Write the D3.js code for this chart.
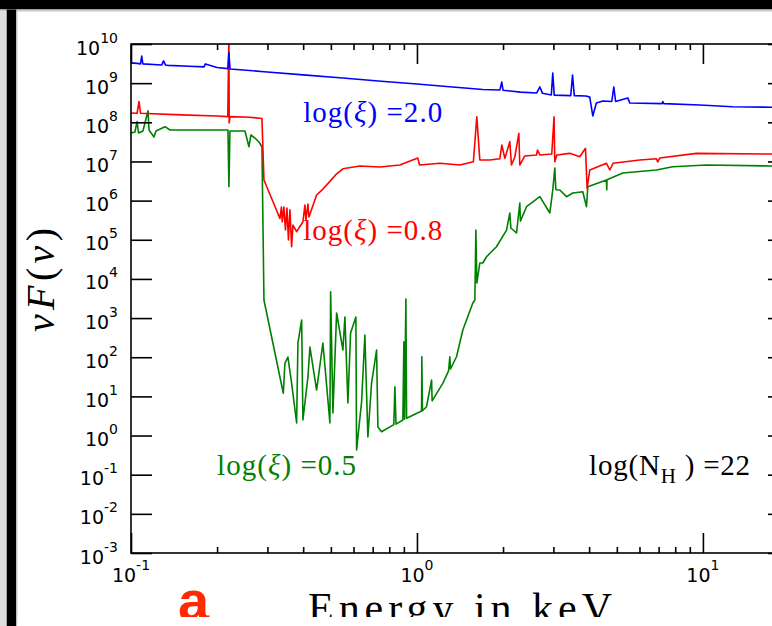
<!DOCTYPE html>
<html>
<head>
<meta charset="utf-8">
<script src="https://cdn.jsdelivr.net/npm/d3@7"></script>
<style>
  body { margin: 0; background: #fff; }
  svg { display: block; }
</style>
</head>
<body>
<div id="chart"></div>
<script>
// Chart size is fixed to the reference picture
const width = 772;
const height = 626;

// energies in keV, nuF(nu) values
const blueEnergy = [0.100, 0.105, 0.108, 0.109, 0.110, 0.128, 0.130, 0.132, 0.135, 0.160, 0.180, 0.182, 0.200, 0.218, 0.220, 0.222, 0.292, 0.40, 0.55, 0.75, 1.0, 1.30, 1.70, 1.95, 1.98, 2.00, 2.30, 2.62, 2.69, 2.75, 2.95, 2.985, 3.02, 3.45, 3.50, 3.55, 3.90, 4.02, 4.12, 4.24, 4.47, 4.80, 4.88, 4.95, 5.46, 5.55, 7.20, 7.24, 7.30, 9.75, 12.7, 17.4, 20];
const blueFlux = [3.3e9, 3.2e9, 3.1e9, 4.9e9, 3.1e9, 2.9e9, 3.7e9, 2.9e9, 2.85e9, 2.7e9, 2.6e9, 3.1e9, 2.5e9, 2.35e9, 6.0e9, 2.3e9, 1.96e9, 1.63e9, 1.35e9, 1.12e9, 9.5e8, 8.1e8, 6.9e8, 6.7e8, 1.07e9, 6.6e8, 5.9e8, 5.6e8, 8.0e8, 5.5e8, 5.0e8, 1.8e9, 4.95e8, 4.8e8, 1.6e9, 4.8e8, 4.7e8, 4.4e8, 1.45e8, 3.1e8, 3.5e8, 3.4e8, 8.0e8, 3.4e8, 4.2e8, 3.1e8, 3.0e8, 3.4e8, 3.0e8, 2.77e8, 2.5e8, 2.42e8, 2.38e8];

const redEnergy = [0.100, 0.105, 0.1067, 0.108, 0.15, 0.20, 0.218, 0.220, 0.2205, 0.222, 0.26, 0.287, 0.2917, 0.3318, 0.3357, 0.338, 0.3425, 0.3468, 0.351, 0.3553, 0.3595, 0.3645, 0.3684, 0.3795, 0.3992, 0.4057, 0.409, 0.4156, 0.419, 0.4457, 0.47, 0.4961, 0.52, 0.551, 0.6315, 0.742, 0.871, 1.007, 1.021, 1.202, 1.413, 1.575, 1.619, 1.659, 1.798, 1.949, 1.98, 2.03, 2.112, 2.14, 2.199, 2.271, 2.289, 2.383, 2.618, 2.64, 2.69, 2.961, 3.016, 3.034, 3.083, 3.423, 3.71, 3.885, 3.935, 4.021, 4.60, 4.724, 4.851, 6.015, 6.88, 6.95, 7.06, 9.49, 17.4, 20];
const redFlux = [1.73e8, 1.7e8, 3.4e8, 1.7e8, 1.55e8, 1.45e8, 1.4e8, 2e10, 9.6e7, 1.4e8, 1.35e8, 1.25e8, 3.36e6, 3.49e5, 6.87e5, 2.84e5, 6.87e5, 1.77e5, 6.5e5, 9.86e4, 5.8e5, 6.64e4, 2.38e5, 1.61e5, 2.89e5, 7.7e5, 3.16e5, 8.2e5, 3.81e5, 1.39e6, 2.0e6, 3.1e6, 4.6e6, 6.5e6, 7.65e6, 7.2e6, 8.1e6, 1.22e7, 8.1e6, 9.0e6, 8.1e6, 9.86e6, 1.39e8, 1.09e7, 1.09e7, 1.17e7, 2.63e7, 1.2e7, 3.2e7, 8.1e6, 1.3e7, 5.24e7, 8.1e6, 1.38e7, 1.46e7, 1.96e7, 1.46e7, 1.55e7, 1.39e8, 9.86e6, 1.46e7, 1.61e7, 1.32e7, 2.17e7, 2.06e6, 6.05e6, 9.0e6, 6.05e6, 9.0e6, 1.09e7, 1.17e7, 9.7e6, 1.22e7, 1.61e7, 1.55e7, 1.55e7];

const greenEnergy = [0.100, 0.1032, 0.105, 0.1063, 0.1101, 0.1147, 0.1156, 0.1203, 0.1223, 0.1315, 0.1369, 0.1742, 0.2183, 0.2200, 0.2218, 0.2503, 0.2585, 0.2627, 0.2713, 0.2802, 0.287, 0.2917, 0.3409, 0.3454, 0.3538, 0.3645, 0.3795, 0.3835, 0.3951, 0.3992, 0.4156, 0.4224, 0.4457, 0.4689, 0.4961, 0.4990, 0.5083, 0.5236, 0.5508, 0.5598, 0.5735, 0.5860, 0.6115, 0.6150, 0.6403, 0.6574, 0.6735, 0.6939, 0.7225, 0.7301, 0.7521, 0.83, 0.8372, 0.845, 0.8927, 0.90, 0.905, 0.9146, 0.92, 1.038, 1.04, 1.045, 1.080, 1.125, 1.13, 1.232, 1.29, 1.303, 1.31, 1.375, 1.447, 1.568, 1.594, 1.607, 1.62, 1.659, 1.70, 1.751, 1.897, 2.057, 2.112, 2.13, 2.229, 2.289, 2.30, 2.416, 2.69, 2.915, 2.985, 3.034, 3.06, 3.159, 3.334, 3.507, 3.801, 3.916, 3.957, 4.60, 4.61, 4.62, 5.245, 6.88, 7.844, 10.29, 17.4, 20];
const greenFlux = [5.33e7, 5.65e7, 1.04e8, 5.33e7, 6.0e7, 1.98e8, 6.35e7, 4.22e7, 6.0e7, 7.73e7, 6.35e7, 6.35e7, 6.35e7, 2.26e6, 6.0e7, 6.0e7, 2.38e7, 4.74e7, 3.97e7, 3.14e7, 2.38e7, 2.89e3, 12.0, 71, 101, 21.9, 2.09, 231, 891, 2.49, 31.2, 182, 14.5, 231, 2.09, 4710, 3.76, 1350, 153, 1060, 6.76, 415, 1060, 0.427, 7.30, 369, 0.916, 21.9, 153, 1.65, 1.25, 1.9, 17.7, 1.95, 2.49, 249, 2.6, 3070, 2.75, 4.23, 103, 4.3, 5.44, 26.2, 7.7, 21.9, 45, 103, 50, 103, 495, 2420, 2890, 1.77e5, 7.86e3, 2.55e4, 2.55e4, 3.69e4, 6.64e4, 1.77e5, 4.82e5, 2.0e5, 1.49e5, 8.68e5, 3.0e5, 6.99e5, 1.26e6, 4.82e5, 1.87e6, 6.8e6, 1.9e6, 1.87e6, 1.26e6, 1.56e6, 1.69e6, 6.99e5, 2.26e6, 3.36e6, 1.87e6, 3.4e6, 5.07e6, 6.05e6, 7.34e6, 8.11e6, 7.65e6, 7.5e6];

// series names, colours and where matplotlib put their labels (data coords)
const seriesNames = ["log(ξ) =2.0", "log(ξ) =0.8", "log(ξ) =0.5"];
const seriesColors = ["#0000ff", "#ff0000", "#008000"];
const labelEnergy = [0.4, 0.4, 0.2];
const labelFlux = [1.02e8, 9.9e4, 0.098];

// tick exponents
const xTickExps = [-1, 0, 1];
const yTickExps = [-3, -2, -1, 0, 1, 2, 3, 4, 5, 6, 7, 8, 9, 10];

const margin = { top: 44, left: 131, bottom: 553, right: 789 };

const svg = d3.select("#chart").append("svg")
  .attr("width", width)
  .attr("height", height)
  .attr("viewBox", [0, 0, width, height]);

// window frame from the screenshot
svg.append("rect").attr("x", 0).attr("y", 0).attr("width", width).attr("height", 9.5).attr("fill", "#000");
svg.append("rect").attr("x", 0).attr("y", 9.5).attr("width", width).attr("height", 2).attr("fill", "#c9c9c9");
svg.append("rect").attr("x", 0).attr("y", 11.5).attr("width", 6.7).attr("height", height).attr("fill", "#dedede");
svg.append("rect").attr("x", 6.7).attr("y", 9.5).attr("width", 9.5).attr("height", height).attr("fill", "#000");
svg.append("rect").attr("x", 16.2).attr("y", 11.5).attr("width", 1.2).attr("height", height).attr("fill", "#bbb");

const x = d3.scaleLog().domain([0.1, 20]).range([margin.left, margin.right]);
const y = d3.scaleLog().domain([1e-3, 1e10]).range([margin.bottom, margin.top]);

svg.append("clipPath").attr("id", "plotclip")
  .append("rect")
  .attr("x", margin.left).attr("y", margin.top)
  .attr("width", margin.right - margin.left)
  .attr("height", margin.bottom - margin.top);

const line = d3.line().x((d) => x(d[0])).y((d) => y(d[1]));

const series = [
  d3.zip(blueEnergy, blueFlux),
  d3.zip(redEnergy, redFlux),
  d3.zip(greenEnergy, greenFlux)
];

// draw green first so blue and red sit on top like the reference
svg.append("g").attr("clip-path", "url(#plotclip)")
  .selectAll("path")
  .data([2, 1, 0])
  .join("path")
  .attr("d", (i) => line(series[i]))
  .attr("fill", "none")
  .attr("stroke", (i) => seriesColors[i])
  .attr("stroke-width", 1.6)
  .attr("stroke-linejoin", "round");

// ticks
const majorX = xTickExps.map((e) => Math.pow(10, e));
const minorX = [];
xTickExps.forEach((e) => {
  for (let k = 2; k <= 9; k++) {
    const v = k * Math.pow(10, e);
    if (v <= 20) minorX.push(v);
  }
});
const majorY = yTickExps.map((e) => Math.pow(10, e));

function styleAxis(g) {
  g.select(".domain").remove();
  g.selectAll("line").attr("stroke", "#000").attr("stroke-width", 1.6);
  g.selectAll("text").remove();
}

svg.append("g").attr("transform", `translate(0,${margin.bottom})`)
  .call(d3.axisBottom(x).tickValues(majorX).tickSize(-20).tickSizeOuter(0)).call(styleAxis);
svg.append("g").attr("transform", `translate(0,${margin.bottom})`)
  .call(d3.axisBottom(x).tickValues(minorX).tickSize(-6).tickSizeOuter(0)).call(styleAxis);
svg.append("g").attr("transform", `translate(0,${margin.top})`)
  .call(d3.axisTop(x).tickValues(majorX).tickSize(-20).tickSizeOuter(0)).call(styleAxis);
svg.append("g").attr("transform", `translate(0,${margin.top})`)
  .call(d3.axisTop(x).tickValues(minorX).tickSize(-6).tickSizeOuter(0)).call(styleAxis);
svg.append("g").attr("transform", `translate(${margin.left},0)`)
  .call(d3.axisLeft(y).tickValues(majorY).tickSize(-21).tickSizeOuter(0)).call(styleAxis);
svg.append("g").attr("transform", `translate(${margin.right},0)`)
  .call(d3.axisRight(y).tickValues(majorY).tickSize(-21).tickSizeOuter(0)).call(styleAxis);

// spines
svg.append("rect")
  .attr("x", margin.left).attr("y", margin.top)
  .attr("width", margin.right - margin.left)
  .attr("height", margin.bottom - margin.top)
  .attr("fill", "none").attr("stroke", "#000").attr("stroke-width", 1.6);

// tick labels, 10 with a raised exponent
function powerLabel(sel, exp) {
  sel.append("tspan").text("10");
  sel.append("tspan").attr("dy", -12).attr("font-size", "14px").text(exp < 0 ? "-" + (-exp) : exp);
}

svg.append("g")
  .attr("font-family", "DejaVu Sans, sans-serif")
  .attr("font-size", "19px")
  .attr("fill", "#000")
  .selectAll("text")
  .data(yTickExps)
  .join("text")
  .attr("x", margin.left - 13)
  .attr("y", (e) => y(Math.pow(10, e)) + 10.5)
  .attr("text-anchor", "end")
  .each(function (e) { powerLabel(d3.select(this), e); });

svg.append("g")
  .attr("font-family", "DejaVu Sans, sans-serif")
  .attr("font-size", "19px")
  .attr("fill", "#000")
  .selectAll("text")
  .data(xTickExps)
  .join("text")
  .attr("x", (e) => x(Math.pow(10, e)))
  .attr("y", margin.bottom + 29)
  .attr("text-anchor", "middle")
  .each(function (e) { powerLabel(d3.select(this), e); });

// series labels
const serif = "Liberation Serif, Times New Roman, serif";
seriesNames.forEach((name, i) => {
  const t = svg.append("text")
    .attr("x", x(labelEnergy[i]))
    .attr("y", y(labelFlux[i]))
    .attr("font-family", serif)
    .attr("font-size", "29px")
    .attr("fill", seriesColors[i])
    .attr("textLength", 139)
    .attr("lengthAdjust", "spacing");
  const parts = name.split("ξ");
  t.append("tspan").text(parts[0]);
  t.append("tspan").attr("font-style", "italic").text("ξ");
  t.append("tspan").text(parts[1]);
});

// column density note
const nh = svg.append("text")
  .attr("x", x(4.0))
  .attr("y", y(0.098))
  .attr("font-family", serif)
  .attr("font-size", "29px")
  .attr("fill", "#000")
  .attr("textLength", 161)
  .attr("lengthAdjust", "spacing");
nh.append("tspan").text("log(N");
nh.append("tspan").attr("font-size", "21px").attr("dy", 8).text("H");
nh.append("tspan").attr("dy", -8).text(" ) =22");

// axis titles
svg.append("text")
  .attr("x", (margin.left + margin.right) / 2)
  .attr("y", 622)
  .attr("text-anchor", "middle")
  .attr("font-family", serif)
  .attr("font-size", "42px")
  .attr("fill", "#000")
  .attr("textLength", 304)
  .attr("lengthAdjust", "spacing")
  .text("Energy  in  keV");

const ylab = svg.append("text")
  .attr("transform", "translate(54,280) rotate(-90)")
  .attr("text-anchor", "middle")
  .attr("font-family", serif)
  .attr("font-size", "40px")
  .attr("fill", "#000")
  .attr("textLength", 104)
  .attr("lengthAdjust", "spacing");
ylab.append("tspan").attr("font-style", "italic").text("νF");
ylab.append("tspan").text("(");
ylab.append("tspan").attr("font-style", "italic").text("ν");
ylab.append("tspan").text(")");

// panel letter
svg.append("text")
  .attr("x", 178)
  .attr("y", 620)
  .attr("font-family", "Liberation Sans, Arial, sans-serif")
  .attr("font-weight", "bold")
  .attr("font-size", "56px")
  .attr("fill", "#ff2a00")
  .text("a");

// bottom of the screenshot is cut off
svg.append("rect").attr("x", 17.4).attr("y", 617).attr("width", width).attr("height", 9).attr("fill", "#fff");
</script>
</body>
</html>
